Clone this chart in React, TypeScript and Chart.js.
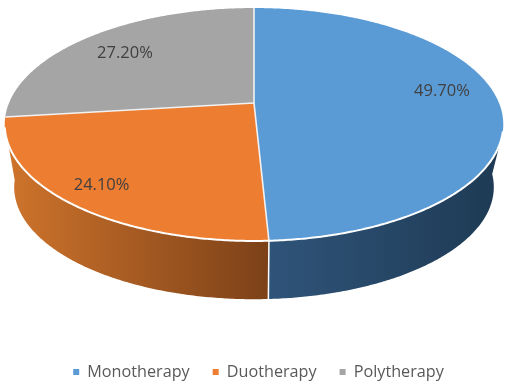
import React, { useEffect, useRef } from "react";
import { Chart, registerables } from "chart.js";

Chart.register(...registerables);

const categories = ["Monotherapy", "Duotherapy", "Polytherapy"];
const shares = [49.7, 24.1, 27.2];
const shareLabels = ["49.70%", "24.10%", "27.20%"];
const faceColors = ["#5b9bd5", "#ed7d31", "#a5a5a5"];
const wallStops = [
  ["#2f5479", "#1e3a54"],
  ["#cf742c", "#7c4118"],
  ["#7a7a7a", "#7a7a7a"],
];
const labelRadius = [0.77, 0.85, 0.77];
const labelShiftY = [-10, -1, 3];

// Perspective view of the pie disc
const view = { cx: 254, cy: 103, sx: 245, sy: 112.5, p: 0.1845, depth: 63.5, floorScale: 0.962 };
const RAD = Math.PI / 180;
const wallFrom = 20 * RAD;
const wallTo = 160 * RAD;

function project(phi: number, f = 1, floor = false) {
  const u = Math.cos(phi) * f;
  const v = Math.sin(phi) * f;
  const w = 1 - view.p * v;
  const s = floor ? view.floorScale : 1;
  return {
    x: view.cx + (s * view.sx * u) / w,
    y: view.cy + (floor ? view.depth : 0) + (s * view.sy * v) / w,
  };
}

function sweep(ctx: CanvasRenderingContext2D, a: number, b: number, floor: boolean, first: boolean) {
  const n = Math.max(2, Math.ceil(Math.abs(b - a) / (0.5 * RAD)));
  for (let i = 0; i <= n; i++) {
    const q = project(a + ((b - a) * i) / n, 1, floor);
    if (first && i === 0) ctx.moveTo(q.x, q.y);
    else ctx.lineTo(q.x, q.y);
  }
}

const pie3d = {
  id: "pie3d",
  beforeDatasetsDraw(chart: any) {
    const ctx: CanvasRenderingContext2D = chart.ctx;
    const arcs = chart.getDatasetMeta(0).data;
    ctx.save();
    ctx.lineJoin = "round";
    // walls
    arcs.forEach((arc: any, i: number) => {
      const top0 = Math.max(arc.startAngle, wallFrom);
      const top1 = Math.min(arc.endAngle, wallTo);
      const bot0 = Math.max(arc.startAngle, 4 * RAD);
      const bot1 = Math.min(arc.endAngle, 176 * RAD);
      if (top1 <= top0) return;
      const left = project(bot1, 1, false).x;
      const right = project(top0, 1, false).x;
      const g = ctx.createLinearGradient(Math.min(left, right), 0, Math.max(left, right), 0);
      g.addColorStop(0, wallStops[i][0]);
      g.addColorStop(1, wallStops[i][1]);
      ctx.beginPath();
      sweep(ctx, top0, top1, false, true);
      sweep(ctx, bot1, bot0, true, false);
      ctx.closePath();
      ctx.fillStyle = g;
      ctx.fill();
    });
    // wall separators
    arcs.forEach((arc: any) => {
      const e = arc.endAngle;
      if (e > wallFrom && e < wallTo) {
        const a = project(e, 1, false);
        const b = project(e, 1, true);
        ctx.beginPath();
        ctx.moveTo(a.x, a.y);
        ctx.lineTo(b.x, b.y);
        ctx.strokeStyle = "#ffffff";
        ctx.lineWidth = 1.5;
        ctx.stroke();
      }
    });
    // top faces
    arcs.forEach((arc: any, i: number) => {
      ctx.beginPath();
      ctx.moveTo(view.cx, view.cy);
      sweep(ctx, arc.startAngle, arc.endAngle, false, false);
      ctx.closePath();
      ctx.fillStyle = faceColors[i];
      ctx.fill();
    });
    arcs.forEach((arc: any) => {
      ctx.beginPath();
      ctx.moveTo(view.cx, view.cy);
      const q = project(arc.startAngle);
      ctx.lineTo(q.x, q.y);
      ctx.strokeStyle = "#f2f2f2";
      ctx.lineWidth = 1.6;
      ctx.stroke();
    });
    // bright near rim
    ctx.beginPath();
    sweep(ctx, 14 * RAD, 168 * RAD, false, true);
    ctx.strokeStyle = "#ffffff";
    ctx.lineWidth = 2;
    ctx.stroke();
    // labels
    ctx.fillStyle = "#404040";
    ctx.font = '16.5px "Open Sans", "Noto Sans", sans-serif';
    ctx.textAlign = "center";
    ctx.textBaseline = "middle";
    arcs.forEach((arc: any, i: number) => {
      const q = project((arc.startAngle + arc.endAngle) / 2, labelRadius[i]);
      ctx.fillText(shareLabels[i], q.x, q.y + labelShiftY[i]);
    });
    ctx.restore();
    return false;
  },
};

export default function App() {
  const ref = useRef<HTMLCanvasElement>(null);
  useEffect(() => {
    document.body.style.margin = "0";
    const chart = new Chart(ref.current!, {
      type: "pie",
      data: {
        labels: categories,
        datasets: [{ data: shares, backgroundColor: faceColors, borderWidth: 0 }],
      },
      options: {
        responsive: false,
        animation: false,
        layout: { padding: { bottom: -1, left: 7 } },
        plugins: {
          tooltip: { enabled: false },
          legend: {
            position: "bottom",
            labels: {
              font: { family: '"Open Sans", "Noto Sans", sans-serif', size: 16.2 },
              color: "#595959",
              boxWidth: 6,
              boxHeight: 6,
              padding: 23,
            },
          },
        },
      },
      plugins: [pie3d],
    } as any);
    return () => chart.destroy();
  }, []);
  return <canvas ref={ref} width={510} height={389} style={{ display: "block" }} />;
}
